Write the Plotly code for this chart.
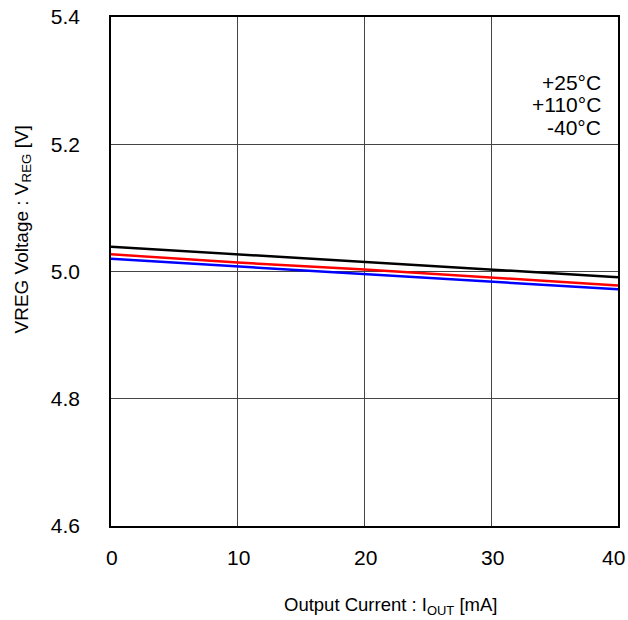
import plotly.graph_objects as go

# Output current (mA)
current_ma = [0, 10, 20, 30, 40]

# Regulator output voltage (V) per ambient temperature
vreg_25c = [5.039, 5.027, 5.015, 5.003, 4.991]
vreg_110c = [5.027, 5.014, 5.003, 4.990, 4.978]
vreg_m40c = [5.020, 5.008, 4.997, 4.985, 4.972]

series_names = ["+25°C", "+110°C", "-40°C"]
series_values = [vreg_25c, vreg_110c, vreg_m40c]
series_colors = ["#000000", "#ff0000", "#0000ff"]

x_ticks = [0, 10, 20, 30, 40]
y_ticks = [4.6, 4.8, 5.0, 5.2, 5.4]

font_family = "Liberation Sans, Arial, sans-serif"
black = "#000000"

fig = go.Figure()
for name, vals, color in zip(series_names, series_values, series_colors):
    fig.add_trace(go.Scatter(
        x=current_ma, y=vals, mode="lines", name=name,
        line=dict(color=color, width=2.5), showlegend=False,
    ))

# Temperature labels stacked at the upper right of the plot area
for i, name in enumerate(series_names):
    fig.add_annotation(
        x=1, y=1, xref="paper", yref="paper",
        xanchor="right", yanchor="middle",
        xshift=-15, yshift=-(65 + 22.5 * i),
        text=name, showarrow=False, align="right",
        font=dict(family=font_family, size=21, color=black),
    )

# X tick labels as annotations so the last one may overhang the right edge
for v in x_ticks:
    fig.add_annotation(
        x=v, y=0, xref="x", yref="paper",
        xanchor="center", yanchor="middle", yshift=-31,
        xshift=-5 if v == x_ticks[-1] else 1,
        text=str(v), showarrow=False,
        font=dict(family=font_family, size=21, color=black),
    )

# Axis titles
fig.add_annotation(
    x=0, y=0.5, xref="paper", yref="paper",
    xanchor="center", yanchor="middle", xshift=-89, yshift=42,
    text="VREG Voltage : V<sub>REG</sub> [V]", textangle=-90,
    showarrow=False, font=dict(family=font_family, size=19, color=black),
)
fig.add_annotation(
    x=0.5, y=0, xref="paper", yref="paper",
    xanchor="center", yanchor="middle", xshift=26, yshift=-80,
    text="Output Current : I<sub>OUT</sub> [mA]",
    showarrow=False, font=dict(family=font_family, size=18.5, color=black),
)

axis_common = dict(
    showgrid=True, gridcolor="#444444", gridwidth=1,
    showline=True, linecolor=black, linewidth=1.5, mirror=True,
    ticks="", zeroline=False, automargin=False,
    tickfont=dict(family=font_family, size=21, color=black),
)

fig.update_xaxes(
    range=[0, 40], tickvals=x_ticks, showticklabels=False, **axis_common,
)
fig.update_yaxes(
    range=[4.6, 5.4], tickvals=y_ticks, ticktext=[f"{v:.1f}" for v in y_ticks],
    ticklabelstandoff=25, **axis_common,
)

fig.update_layout(
    width=628, height=620,
    margin=dict(l=111, r=10, t=17, b=94),
    plot_bgcolor="#ffffff", paper_bgcolor="#ffffff",
    font=dict(family=font_family, color=black),
)

fig.write_html("out.html")
